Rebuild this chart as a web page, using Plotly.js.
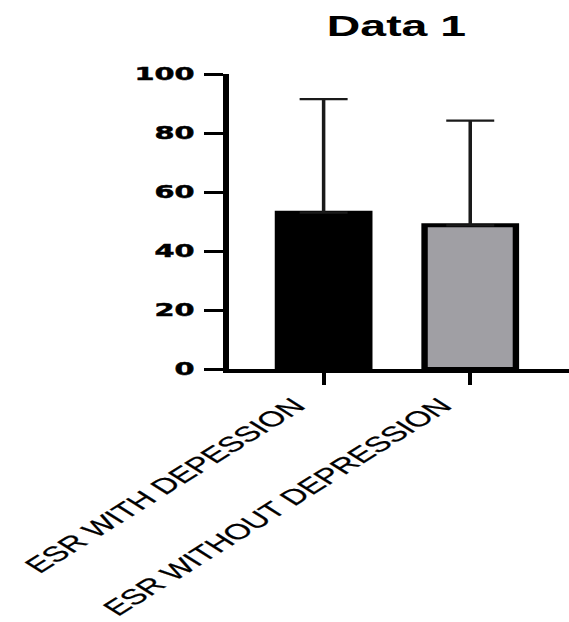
<!DOCTYPE html>
<html>
<head>
<meta charset="utf-8">
<script src="https://cdn.plot.ly/plotly-3.0.1.min.js"></script>
<style>
  html, body { margin: 0; padding: 0; background: #fff; overflow: hidden; }
  #chart { width: 356px; height: 622px; transform: scaleX(1.6); transform-origin: 0 0; }
  #chart .ytick text { stroke: #000; stroke-width: 0.5px; }
  #chart .xtick text { stroke: #000; stroke-width: 0.25px; }
</style>
</head>
<body>
<div id="chart"></div>
<script>
// Data
const categories = ["ESR WITH DEPESSION", "ESR WITHOUT DEPRESSION"];
const meanValues = [53.0, 48.7];
const sdValues = [38.5, 35.5];
const barColors = ["#000000", "#A09FA4"];
const yTickValues = [0, 20, 40, 60, 80, 100];
const yTickLabels = ["0", "20", "40", "60", "80", "100"];

const trace = {
  type: "bar",
  x: [0, 1],
  y: meanValues,
  width: 0.623,
  marker: { color: barColors, line: { color: "#000000", width: 4 } },
  error_y: {
    type: "data",
    symmetric: false,
    array: sdValues,
    arrayminus: [0, 0],
    visible: true,
    color: "#1a1a1a",
    thickness: 2.2,
    width: 15
  },
  hoverinfo: "none",
  showlegend: false
};

const layout = {
  width: 356,
  height: 622,
  margin: { l: 142.5, r: 0, t: 74, b: 253, pad: 0 },
  paper_bgcolor: "#ffffff",
  plot_bgcolor: "#ffffff",
  title: {
    text: "<b>Data 1</b>",
    font: { family: "Liberation Sans, Arial, sans-serif", size: 29, color: "#000000" },
    x: 0.492, xref: "paper", xanchor: "center",
    y: 0.958, yref: "container", yanchor: "middle"
  },
  xaxis: {
    range: [-0.6467, 1.6777],
    tickmode: "array",
    tickvals: [0, 1],
    ticktext: categories,
    tickangle: -45,
    ticks: "outside",
    ticklen: 12,
    tickwidth: 2.5,
    tickcolor: "#000000",
    ticklabelshift: -18,
    showline: true,
    linecolor: "#000000",
    linewidth: 3.5,
    showgrid: false,
    zeroline: false,
    tickfont: { family: "Liberation Sans, Arial, sans-serif", size: 21.5, color: "#000000" },
    fixedrange: true
  },
  yaxis: {
    range: [0, 100],
    tickmode: "array",
    tickvals: yTickValues,
    ticktext: yTickLabels,
    ticks: "outside",
    ticklen: 12,
    tickwidth: 3,
    tickcolor: "#000000",
    ticklabelstandoff: 2,
    showline: true,
    linecolor: "#000000",
    linewidth: 3.8,
    showgrid: false,
    zeroline: false,
    tickfont: { family: "DejaVu Sans, sans-serif", size: 18, color: "#000000", weight: "bold" },
    fixedrange: true
  },
  bargap: 0
};

Plotly.newPlot("chart", [trace], layout, { displayModeBar: false, staticPlot: true });
</script>
</body>
</html>
